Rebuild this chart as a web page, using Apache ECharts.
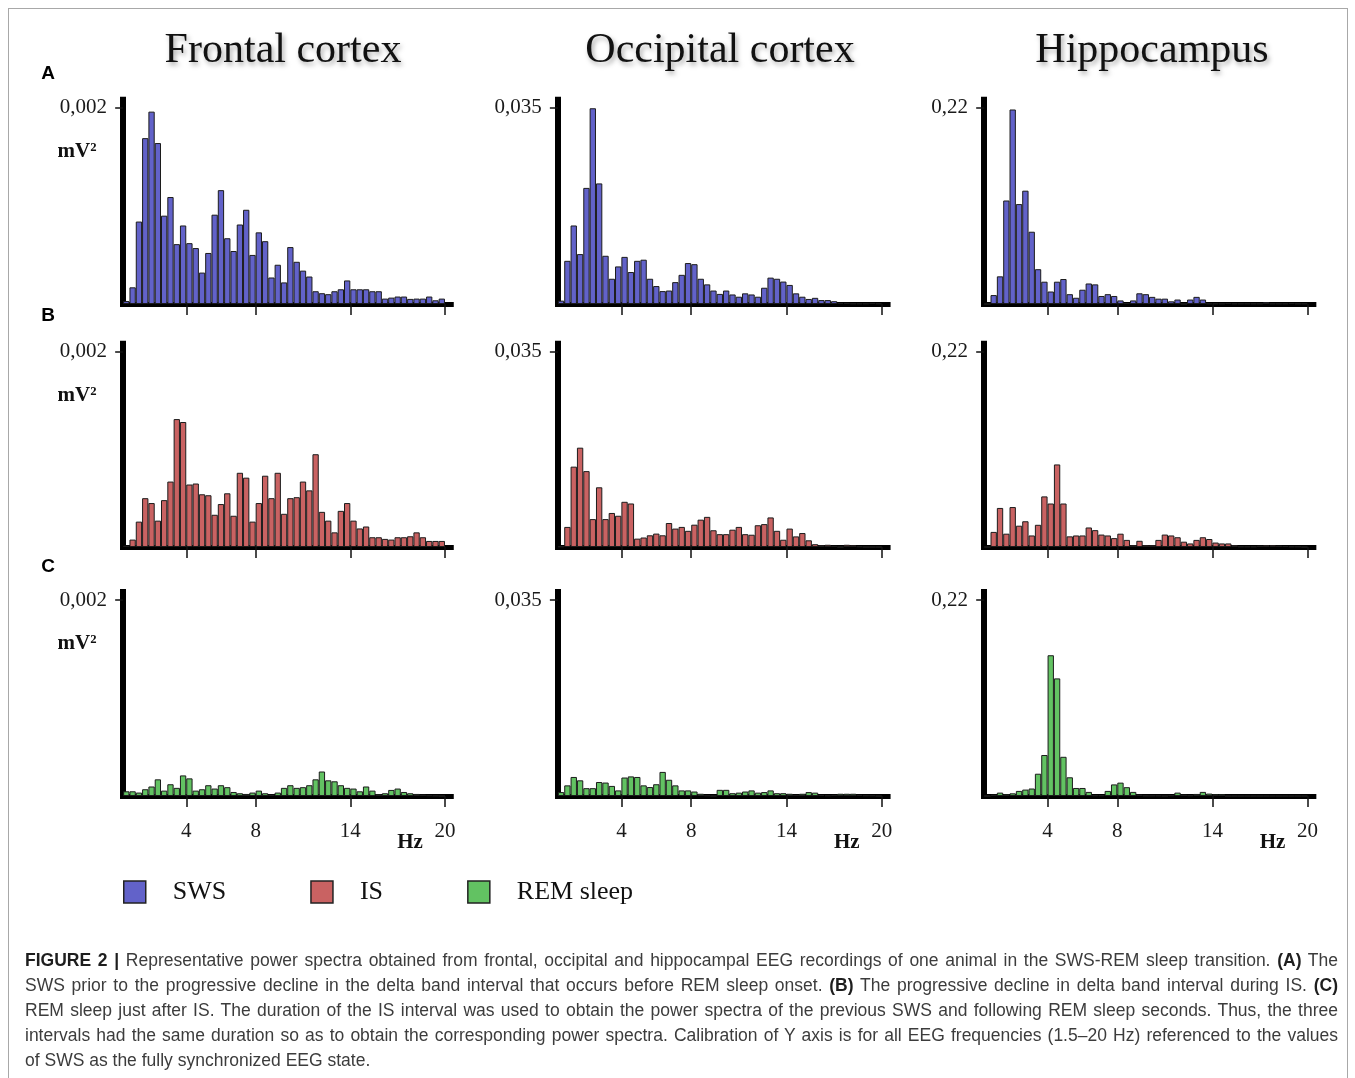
<!DOCTYPE html>
<html>
<head>
<meta charset="utf-8">
<script src="https://cdn.jsdelivr.net/npm/echarts@6/dist/echarts.min.js"></script>
<style>
	body { margin: 0; background: #fff; }
	#wrap { position: relative; width: 1355px; height: 1078px; overflow: hidden; }
	#chart { position: absolute; left: 0; top: 0; width: 1355px; height: 1078px; }
	#frame { position: absolute; left: 8px; top: 8px; width: 1338px; height: 1100px; border: 1px solid #a8a8a8; pointer-events: none; }
	#caption { position: absolute; left: 25px; top: 948px; width: 1313px; font: 17.5px "Liberation Sans", Arial, sans-serif; line-height: 25px; color: #3c3c3c; }
	#caption div { white-space: nowrap; text-align: justify; text-align-last: justify; }
	#caption div.last { text-align-last: left; }
	#caption b { color: #1e1e1e; }
</style>
</head>
<body>
<div id="wrap">
	<div id="chart"></div>
	<div id="frame"></div>
	<div id="caption">
		<div><b>FIGURE 2 |</b> Representative power spectra obtained from frontal, occipital and hippocampal EEG recordings of one animal in the SWS-REM sleep transition. <b>(A)</b> The</div>
		<div>SWS prior to the progressive decline in the delta band interval that occurs before REM sleep onset. <b>(B)</b> The progressive decline in delta band interval during IS. <b>(C)</b></div>
		<div>REM sleep just after IS. The duration of the IS interval was used to obtain the power spectra of the previous SWS and following REM sleep seconds. Thus, the three</div>
		<div>intervals had the same duration so as to obtain the corresponding power spectra. Calibration of Y axis is for all EEG frequencies (1.5–20 Hz) referenced to the values</div>
		<div class="last">of SWS as the fully synchronized EEG state.</div>
	</div>
</div>

<script>
	// column titles, states and calibration of each column (mV²)
	var regions = ['Frontal cortex', 'Occipital cortex', 'Hippocampus']
	var states = ['SWS', 'IS', 'REM sleep']
	var rowLetters = ['A', 'B', 'C']
	var yTickValues = [0.002, 0.035, 0.22]
	var yTickLabels = ['0,002', '0,035', '0,22']

	// x ticks sit on bin edges (bin index), labelled in Hz
	var xTickBins = [10, 21, 36, 51]
	var xTickLabels = ['4', '8', '14', '20']

	// power per frequency bin (51 bins up to 20 Hz), mV²
	var frontalSWS = [0.00003, 0.00017, 0.00084, 0.00169, 0.00196, 0.00164, 0.00090, 0.00109, 0.00061, 0.00080,
		0.00062, 0.00057, 0.00032, 0.00052, 0.00091, 0.00116, 0.00067, 0.00054, 0.00081, 0.00096,
		0.00050, 0.00073, 0.00064, 0.00027, 0.00040, 0.00022, 0.00058, 0.00043, 0.00034, 0.00028,
		0.00013, 0.00011, 0.00010, 0.00013, 0.00015, 0.00024, 0.00015, 0.00015, 0.00015, 0.00013,
		0.00013, 0.000055, 0.000065, 0.000076, 0.000076, 0.000052, 0.000055, 0.000055, 0.000076, 0.000038, 0.000055]
	var occipitalSWS = [0.0006, 0.0077, 0.0140, 0.0089, 0.0207, 0.0349, 0.0215, 0.0086, 0.0045, 0.0067,
		0.0084, 0.0057, 0.0077, 0.0079, 0.0045, 0.0032, 0.0023, 0.0024, 0.0039, 0.0052,
		0.0073, 0.0071, 0.0045, 0.0035, 0.0024, 0.0018, 0.0024, 0.0017, 0.0013, 0.0019,
		0.0017, 0.0013, 0.0029, 0.0047, 0.0045, 0.0040, 0.0034, 0.0019, 0.0013, 0.0009,
		0.0011, 0.0007, 0.0007, 0.0005, 0.0002, 0.0002, 0.0001, 0.0001, 0.0001, 0.0002, 0.0001]
	var hippoSWS = [0, 0.010, 0.031, 0.116, 0.218, 0.112, 0.127, 0.081, 0.039, 0.025,
		0.014, 0.025, 0.028, 0.011, 0.007, 0.016, 0.023, 0.022, 0.009, 0.011,
		0.009, 0.004, 0.001, 0.004, 0.012, 0.011, 0.008, 0.006, 0.006, 0.003,
		0.005, 0, 0.005, 0.008, 0.005, 0.0005, 0.0005, 0.0005, 0.001, 0.0005,
		0.0005, 0.0005, 0.0005, 0.0005, 0.002, 0.0005, 0.0005, 0.0005, 0.001, 0.0005, 0.0005]

	var frontalIS = [0.000014, 0.000076, 0.00026, 0.00050, 0.00045, 0.00027, 0.00048, 0.00067, 0.00131, 0.00128,
		0.00064, 0.00065, 0.00054, 0.00053, 0.00033, 0.00044, 0.00055, 0.00032, 0.00076, 0.00071,
		0.00026, 0.00045, 0.00073, 0.00050, 0.00076, 0.00034, 0.00050, 0.00051, 0.00067, 0.00058,
		0.00095, 0.00036, 0.00027, 0.00015, 0.00037, 0.00045, 0.00027, 0.00019, 0.00021, 0.00010,
		0.00010, 0.000083, 0.000076, 0.00010, 0.00010, 0.00011, 0.00015, 0.00010, 0.000062, 0.000062, 0.000062]
	var occipitalIS = [0.0001, 0.0036, 0.0144, 0.0178, 0.0136, 0.0050, 0.0107, 0.0050, 0.0061, 0.0056,
		0.0081, 0.0078, 0.0015, 0.0017, 0.0021, 0.0024, 0.0021, 0.0043, 0.0033, 0.0036,
		0.0029, 0.0040, 0.0049, 0.0054, 0.0030, 0.0023, 0.0023, 0.0031, 0.0036, 0.0023,
		0.0022, 0.0039, 0.0041, 0.0053, 0.0029, 0.0013, 0.0033, 0.0019, 0.0025, 0.0012,
		0.0005, 0.0003, 0.0004, 0.0002, 0, 0.0004, 0.0003, 0.0001, 0, 0, 0]
	var hippoIS = [0, 0.017, 0.044, 0.015, 0.045, 0.024, 0.029, 0.013, 0.025, 0.057,
		0.049, 0.093, 0.049, 0.012, 0.013, 0.013, 0.022, 0.019, 0.014, 0.013,
		0.010, 0.015, 0.008, 0.002, 0.007, 0.002, 0.002, 0.008, 0.014, 0.013,
		0.011, 0.006, 0.004, 0.008, 0.011, 0.009, 0.005, 0.004, 0.004, 0.002,
		0.0005, 0.0005, 0.0005, 0.0015, 0.002, 0.002, 0.0015, 0.001, 0.0005, 0.0005, 0]

	var frontalREM = [0.000048, 0.000048, 0.000035, 0.000069, 0.000097, 0.00017, 0.000055, 0.00012, 0.000083, 0.00021,
		0.00018, 0.000055, 0.000069, 0.00011, 0.000076, 0.00011, 0.00009, 0.000041, 0.000028, 0.000021,
		0.000035, 0.000055, 0.000028, 0.000014, 0.000035, 0.000083, 0.00011, 0.000083, 0.00009, 0.00011,
		0.00017, 0.00025, 0.00016, 0.00015, 0.00011, 0.000083, 0.000076, 0.000048, 0.000097, 0.000055,
		0.000017, 0.000028, 0.000062, 0.000076, 0.000041, 0.000028, 0.000021, 0.000014, 0.000007, 0.000003, 0]
	var occipitalREM = [0.0007, 0.0019, 0.0034, 0.0028, 0.0014, 0.0014, 0.0025, 0.0024, 0.0018, 0.0010,
		0.0033, 0.0035, 0.0034, 0.0019, 0.0016, 0.0021, 0.0043, 0.0029, 0.0019, 0.0010,
		0.0010, 0.0008, 0.0004, 0.0001, 0, 0.0011, 0.0011, 0.0005, 0.0006, 0.0008,
		0.0010, 0.0006, 0.0007, 0.0010, 0.0005, 0.0005, 0.0004, 0.0002, 0.0004, 0.0007,
		0.0006, 0.0002, 0.0001, 0.0002, 0.0004, 0.0004, 0.0004, 0.0002, 0.0001, 0.0001, 0]
	var hippoREM = [0, 0.0015, 0.0038, 0.0019, 0.003, 0.0057, 0.0072, 0.0084, 0.025, 0.046,
		0.158, 0.132, 0.044, 0.021, 0.009, 0.009, 0.0046, 0.0008, 0.0008, 0.0057,
		0.013, 0.015, 0.0099, 0.0046, 0.0015, 0.0004, 0.0004, 0.0004, 0, 0.0008,
		0.0038, 0.0015, 0.0008, 0.0023, 0.0046, 0.0027, 0.0019, 0.0019, 0, 0,
		0, 0, 0, 0, 0, 0, 0, 0, 0, 0, 0]

	var panelData = [
		[frontalSWS, occipitalSWS, hippoSWS],
		[frontalIS, occipitalIS, hippoIS],
		[frontalREM, occipitalREM, hippoREM]
	]

	var stateColors = ['#6262c9', '#c96262', '#62c262']
	var serif = '"Liberation Serif", "Times New Roman", serif'

	// page layout in px: y axis position / bin width per column, calibration tick / baseline per row
	var cols = [{ axisX: 120, bin: 6.31 }, { axisX: 554.7, bin: 6.35 }, { axisX: 981, bin: 6.34 }]
	var rows = [{ tickY: 107.7, zeroY: 304 }, { tickY: 351.7, zeroY: 547 }, { tickY: 600, zeroY: 796 }]
	var slots = 52, overshoot = 8

	// one category per bin, plus one empty slot so the baseline runs past 20 Hz
	var binSlots = []
	for (var s = 0; s < slots; s++) binSlots.push(String(s))

	var grids = [], xAxes = [], yAxes = [], series = []

	rows.forEach(function(row, r) {
		cols.forEach(function(col, c) {
			var top = row.tickY - overshoot
			var height = row.zeroY - top
			var yMax = yTickValues[c] * height / (row.zeroY - row.tickY)
			var idx = grids.length
			var bottomRow = r === rows.length - 1

			grids.push({
				left: col.axisX + col.bin / 2,
				top: top,
				width: slots * col.bin,
				height: height,
				outerBoundsMode: 'none',
				containLabel: false
			})

			// visible frequency axis: line, ticks, labels
			xAxes.push({
				type: 'value',
				gridIndex: idx,
				min: 0,
				max: slots,
				splitLine: { show: false },
				axisLine: { lineStyle: { color: '#000', width: 5, cap: 'square' } },
				axisTick: {
					customValues: xTickBins,
					length: 11,
					lineStyle: { color: '#111', width: 1.5 }
				},
				axisLabel: {
					show: bottomRow,
					customValues: xTickBins,
					margin: 25,
					color: '#1a1a1a',
					fontFamily: serif,
					fontSize: 21,
					formatter: function(val) {
						var k = xTickBins.indexOf(Math.round(val))
						return k >= 0 ? xTickLabels[k] : ''
					}
				}
			})
			// hidden bin axis that the bars sit on
			xAxes.push({
				type: 'category',
				gridIndex: idx,
				data: binSlots,
				boundaryGap: true,
				show: false
			})

			yAxes.push({
				type: 'value',
				gridIndex: idx,
				min: 0,
				max: yMax,
				offset: col.bin / 2,
				splitLine: { show: false },
				axisLine: { show: true, lineStyle: { color: '#000', width: 6, cap: 'square' } },
				axisTick: {
					show: true,
					customValues: [yTickValues[c]],
					length: 8,
					lineStyle: { color: '#111', width: 1.5 }
				},
				axisLabel: {
					customValues: [yTickValues[c]],
					margin: 13,
					color: '#1a1a1a',
					fontFamily: serif,
					fontSize: 21,
					formatter: function() { return yTickLabels[c] }
				}
			})

			series.push({
				type: 'bar',
				name: states[r],
				xAxisIndex: 2 * idx + 1,
				yAxisIndex: idx,
				barCategoryGap: '0%',
				silent: true,
				itemStyle: { color: stateColors[r], borderColor: '#1c1c1c', borderWidth: 1 },
				data: panelData[r][c]
			})
		})
	})

	var graphics = []
	var titleX = [283, 720, 1152]
	regions.forEach(function(name, c) {
		graphics.push({
			type: 'text',
			style: {
				text: name, x: titleX[c], y: 51,
				font: '42px ' + serif, fill: '#111',
				align: 'center', verticalAlign: 'middle',
				textShadowColor: 'rgba(0,0,0,0.35)', textShadowBlur: 5,
				textShadowOffsetX: 2, textShadowOffsetY: 3
			}
		})
	})
	var letterY = [74, 316, 567]
	rows.forEach(function(row, r) {
		graphics.push({
			type: 'text',
			style: {
				text: rowLetters[r], x: 48, y: letterY[r],
				font: 'bold 19px "Liberation Sans", Arial, sans-serif', fill: '#000',
				align: 'center', verticalAlign: 'middle'
			}
		})
		graphics.push({
			type: 'text',
			style: {
				text: 'mV²', x: 77, y: row.tickY + 44,
				font: 'bold 21px ' + serif, fill: '#111',
				align: 'center', verticalAlign: 'middle'
			}
		})
	})
	cols.forEach(function(col) {
		graphics.push({
			type: 'text',
			style: {
				text: 'Hz', x: col.axisX + 51.5 * col.bin - 35, y: 843,
				font: 'bold 21px ' + serif, fill: '#111',
				align: 'center', verticalAlign: 'middle'
			}
		})
	})

	var chart = echarts.init(document.getElementById('chart'))
	chart.setOption({
		animation: false,
		backgroundColor: '#fff',
		grid: grids,
		xAxis: xAxes,
		yAxis: yAxes,
		legend: {
			data: states,
			left: 118,
			top: 874,
			icon: 'rect',
			itemWidth: 22,
			itemHeight: 22,
			itemGap: 84,
			selectedMode: false,
			itemStyle: { borderColor: '#222', borderWidth: 1.5 },
			textStyle: { fontFamily: serif, fontSize: 26, color: '#111', padding: [0, 0, 0, 22] }
		},
		graphic: graphics,
		series: series
	})
</script>
</body>
</html>
